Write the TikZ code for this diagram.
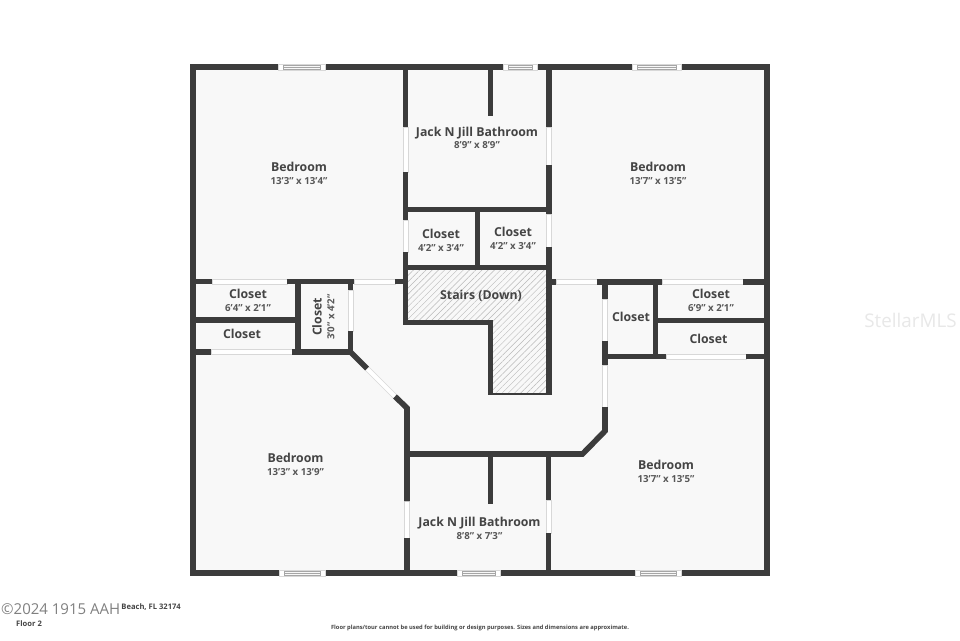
\documentclass[tikz,border=0pt]{standalone}
\usepackage{fontspec}
\setmainfont{Open Sans}
\usetikzlibrary{patterns.meta}
\definecolor{wallc}{HTML}{3C3C3C}
\definecolor{floorc}{HTML}{F8F8F8}
\definecolor{textc}{HTML}{444444}
\definecolor{edgec}{HTML}{D8D8D8}
\tikzset{
  wall/.style={draw=wallc,line width=5.6pt,line join=miter},
  doorh/.style={fill=white,draw=edgec,line width=0.7pt},
  winframe/.style={fill=white,draw=edgec,line width=0.5pt},
  winglass/.style={fill=floorc,draw=gray!70,line width=0.6pt},
  roomname/.style={font=\bfseries\fontsize{12.3}{14}\selectfont,text=textc,inner sep=0pt},
  roomsize/.style={font=\bfseries\fontsize{9.7}{11}\selectfont,text=textc!90,inner sep=0pt},
}
\newcommand{\doorH}[3]{\draw[doorh] (#1,#3-2.6) rectangle (#2,#3+2.6);}
\newcommand{\doorV}[3]{\draw[doorh] (#1-2.6,#2) rectangle (#1+2.6,#3);}
\newcommand{\winH}[3]{\draw[winframe] (#1,#3-2.8) rectangle (#2,#3+2.8);
  \draw[winglass] (#1+5,#3-2.2) rectangle (#2-5,#3+2.2);
  \draw[gray!70,line width=0.4pt] (#1+5,#3) -- (#2-5,#3);}
\begin{document}
\begin{tikzpicture}[x=1pt,y=-1pt]
\useasboundingbox (0,0) rectangle (960,640);
\fill[white] (0,0) rectangle (960,640);
\fill[floorc] (193,67) rectangle (767,573);
% stairs
\path[pattern={Lines[angle=45,distance=4.4pt,line width=0.45pt]},pattern color=gray!55]
  (405.5,267.5) -- (549,267.5) -- (549,394) -- (490.5,394) -- (490.5,322.5) -- (405.5,322.5) -- cycle;
% doors
\doorV{405.5}{127}{172}
\doorV{405.5}{220}{252}
\doorV{549}{127}{165}
\doorV{549}{214}{247}
\doorH{556}{597}{282}
\doorH{212}{287}{281.5}
\doorH{354}{395}{281.5}
\doorH{662}{743}{282}
\doorH{211}{292}{352}
\doorH{666}{746}{356.5}
\doorV{350.5}{290}{331}
\doorV{605}{299}{341}
\doorV{605}{365}{407}
\doorV{407}{501}{538}
\doorV{548.5}{500}{533}
\draw[doorh,line join=round] (365,370) -- (368.5,366.5) -- (397,395) -- (393.5,398.5) -- cycle;
% outer walls
\draw[wall] (193,67) rectangle (767,573);
% interior walls
\draw[wall] (405.5,67) -- (405.5,127);
\draw[wall] (405.5,172) -- (405.5,220);
\draw[wall] (405.5,252) -- (405.5,322.5) -- (490.5,322.5) -- (490.5,395);
\draw[wall] (549,67) -- (549,127);
\draw[wall] (549,165) -- (549,214);
\draw[wall] (549,247) -- (549,395);
\draw[wall] (490.5,67) -- (490.5,116);
\draw[wall] (405.5,209.5) -- (549,209.5);
\draw[wall] (405.5,267.5) -- (549,267.5);
\draw[wall] (477.5,209.5) -- (477.5,267.5);
\draw[draw=wallc,line width=1.6pt] (490.5,394) -- (549,394);
\draw[wall] (193,281.5) -- (212,281.5);
\draw[wall] (287,281.5) -- (354,281.5);
\draw[wall] (395,281.5) -- (405.5,281.5);
\draw[wall] (549,282) -- (556,282);
\draw[wall] (597,282) -- (662,282);
\draw[wall] (743,282) -- (767,282);
\draw[wall] (193,320) -- (298,320);
\draw[wall] (298,281.5) -- (298,352);
\draw[wall] (193,352) -- (211,352);
\draw[wall] (350.5,281.5) -- (350.5,290);
\draw[wall] (292,352) -- (350.5,352) -- (350.5,331);
\draw[wall] (350.5,352) -- (367,368.5);
\draw[wall] (395,396.5) -- (407,408) -- (407,501);
\draw[wall] (407,538) -- (407,573);
\draw[wall] (407,454) -- (582.5,454) -- (605,431) -- (605,407);
\draw[wall] (605,282) -- (605,299);
\draw[wall] (605,341) -- (605,365);
\draw[wall] (655.5,282) -- (655.5,356.5);
\draw[wall] (655.5,320.5) -- (767,320.5);
\draw[wall] (605,356.5) -- (666,356.5);
\draw[wall] (746,356.5) -- (767,356.5);
\draw[wall] (490.5,454) -- (490.5,504);
\draw[wall] (548.5,454) -- (548.5,500);
\draw[wall] (548.5,533) -- (548.5,573);
% windows
\winH{278}{325}{67}
\winH{503}{537}{67}
\winH{632}{681}{67}
\winH{279}{325}{573}
\winH{457}{500}{573}
\winH{635}{681}{573}
% labels
\node[roomname] (n1) at (299,167) {Bedroom};
\node[roomsize] (s1) at (299,181) {13'3" x 13'4"};
\node[roomname] (n2) at (477,133) {Jack N Jill Bathroom};
\node[roomsize] (s2) at (477,145.5) {8'9" x 8'9"};
\node[roomname] (n3) at (658,167) {Bedroom};
\node[roomsize] (s3) at (658,181.5) {13'7" x 13'5"};
\node[roomname] (n4) at (441,233.5) {Closet};
\node[roomsize] (s4) at (441,248) {4'2" x 3'4"};
\node[roomname] (n5) at (513,232) {Closet};
\node[roomsize] (s5) at (513,246) {4'2" x 3'4"};
\node[roomname] (n6) at (481,295.5) {Stairs (Down)};
\node[roomname] (n7) at (248,293.5) {Closet};
\node[roomsize] (s7) at (248,308) {6'4" x 2'1"};
\node[roomname] (n8) at (242,333.5) {Closet};
\node[roomname,rotate=90] (n9) at (317,317) {Closet};
\node[roomsize,rotate=90] (s9) at (331,317) {3'0" x 4'2"};
\node[roomname] (n10) at (631,316.5) {Closet};
\node[roomname] (n11) at (711,294) {Closet};
\node[roomsize] (s11) at (711,308) {6'9" x 2'1"};
\node[roomname] (n12) at (708.5,338.5) {Closet};
\node[roomname] (n13) at (295.5,458) {Bedroom};
\node[roomsize] (s13) at (295.5,472.5) {13'3" x 13'9"};
\node[roomname] (n14) at (666,465) {Bedroom};
\node[roomsize] (s14) at (666,479.5) {13'7" x 13'5"};
\node[roomname] (n15) at (479.5,523.5) {Jack N Jill Bathroom};
\node[roomsize] (s15) at (479.5,536) {8'8" x 7'3"};
% footer
\node[anchor=west,inner sep=0pt,font=\fontsize{15}{17}\selectfont,text=gray] (copy) at (1,609) {©2024 1915 AAH};
\node[anchor=east,inner sep=0pt,font=\bfseries\fontsize{7.6}{9}\selectfont,text=textc] (addr) at (181,607.5) {Beach, FL 32174};
\node[anchor=west,inner sep=0pt,font=\bfseries\fontsize{7.6}{9}\selectfont,text=textc] (floor) at (16,624) {Floor 2};
\node[inner sep=0pt,font=\bfseries\fontsize{5.76}{7}\selectfont,text=textc] (disc) at (480,627.5) {Floor plans/tour cannot be used for building or design purposes. Sizes and dimensions are approximate.};
\node[inner sep=0pt,font=\fontsize{18.8}{22}\selectfont,text=black!9] (mls) at (910.5,320) {StellarMLS};
\end{tikzpicture}
\end{document}
